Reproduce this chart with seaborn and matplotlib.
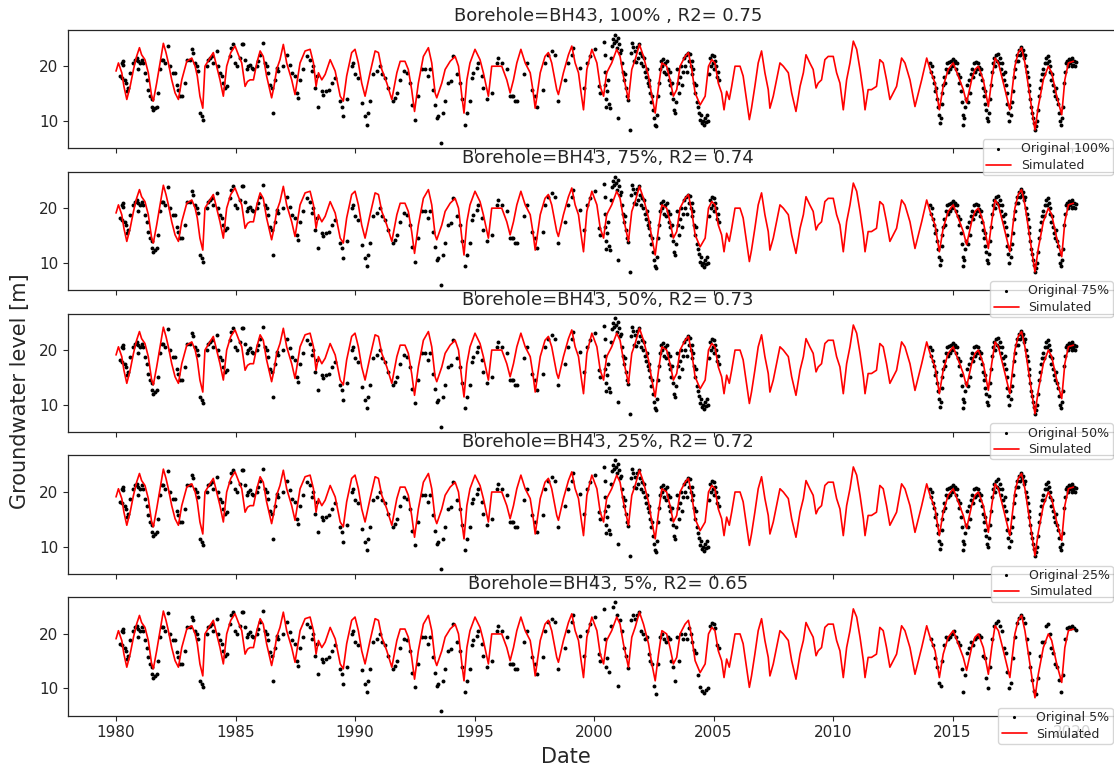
import numpy as np
import pandas as pd
import matplotlib
matplotlib.use("Agg")
import matplotlib.pyplot as plt
import seaborn as sns
from matplotlib.ticker import MultipleLocator, FormatStrFormatter

# ---------------- data (decimal year, groundwater level [m]) ----------------
sim_1980s = [(1980.00, 19.1), (1980.10, 20.6), (1980.24, 18.8), (1980.33, 16.3), (1980.45, 13.9), (1980.59, 16.3),
             (1980.73, 19.4), (1980.86, 21.8), (1980.98, 23.4), (1981.07, 22.1), (1981.21, 21.2), (1981.35, 18.8),
             (1981.49, 14.5), (1981.56, 13.6), (1981.70, 16.9), (1981.84, 20.6), (1981.98, 24.2), (1982.09, 22.5),
             (1982.19, 20.6), (1982.33, 17.5), (1982.47, 15.1), (1982.61, 13.9), (1982.75, 17.5), (1982.96, 20.9),
             (1983.17, 21.5), (1983.31, 20.0), (1983.40, 18.2), (1983.51, 14.5), (1983.63, 12.3), (1983.72, 20.0),
             (1983.93, 21.5), (1984.07, 22.5), (1984.21, 20.0), (1984.35, 17.5), (1984.49, 14.5), (1984.63, 20.0),
             (1984.80, 22.5), (1984.98, 23.7), (1985.12, 22.1), (1985.26, 20.6), (1985.40, 16.3), (1985.50, 17.2),
             (1985.61, 17.5), (1985.75, 17.5), (1985.89, 20.6), (1986.03, 22.8), (1986.16, 21.8), (1986.30, 18.2),
             (1986.51, 14.2), (1986.61, 16.3), (1986.72, 19.4), (1986.86, 21.2), (1987.00, 24.0), (1987.14, 20.6),
             (1987.35, 17.5), (1987.49, 14.8), (1987.70, 20.6), (1987.91, 22.8), (1988.12, 23.1), (1988.26, 20.6),
             (1988.37, 16.3), (1988.47, 18.8), (1988.61, 17.5), (1988.75, 18.5), (1988.96, 21.2), (1989.17, 19.1),
             (1989.38, 14.5), (1989.51, 13.6), (1989.65, 18.2), (1989.86, 22.5)]
sim_1990s = [(1990.00, 23.1), (1990.14, 20.6), (1990.28, 16.9), (1990.42, 14.5), (1990.63, 18.8), (1990.84, 22.8),
             (1990.98, 22.5), (1991.12, 19.4), (1991.33, 16.9), (1991.54, 13.9), (1991.75, 18.8), (1991.89, 20.9),
             (1992.09, 20.9), (1992.23, 19.4), (1992.37, 15.7), (1992.49, 11.7), (1992.65, 16.9), (1992.86, 21.8),
             (1993.07, 23.4), (1993.21, 20.6), (1993.35, 15.1), (1993.42, 14.2), (1993.63, 16.9), (1993.77, 19.4),
             (1993.98, 20.9), (1994.19, 21.8), (1994.33, 20.0), (1994.47, 14.5), (1994.56, 11.4), (1994.68, 17.5),
             (1994.81, 20.6), (1995.02, 23.1), (1995.23, 21.2), (1995.37, 18.8), (1995.58, 14.5), (1995.72, 20.0),
             (1995.93, 20.0), (1996.14, 20.0), (1996.35, 17.5), (1996.49, 15.1), (1996.63, 17.5), (1996.77, 20.6),
             (1996.94, 23.1), (1997.12, 20.6), (1997.33, 18.8), (1997.44, 15.7), (1997.54, 12.3), (1997.75, 18.8),
             (1997.95, 21.8), (1998.09, 22.5), (1998.23, 20.6), (1998.44, 15.7), (1998.51, 14.8), (1998.72, 18.8),
             (1998.93, 22.1), (1999.07, 23.7), (1999.21, 20.6), (1999.35, 18.8), (1999.46, 15.1), (1999.56, 12.0),
             (1999.70, 19.4), (1999.91, 23.1)]
sim_2000s = [(2000.12, 20.6), (2000.26, 16.3), (2000.40, 14.5), (2000.53, 18.8), (2000.74, 20.6), (2000.95, 23.1),
             (2001.09, 21.8), (2001.23, 18.2), (2001.44, 13.9), (2001.58, 19.4), (2001.72, 21.2), (2001.90, 24.0),
             (2002.07, 21.8), (2002.28, 18.2), (2002.42, 14.5), (2002.56, 11.4), (2002.70, 16.3), (2002.84, 20.6),
             (2003.04, 20.0), (2003.18, 17.5), (2003.32, 14.5), (2003.46, 15.7), (2003.60, 20.0), (2003.81, 21.8),
             (2003.95, 22.5), (2004.09, 19.4), (2004.23, 15.1), (2004.44, 12.9), (2004.65, 14.5), (2004.79, 20.0),
             (2004.93, 21.2), (2005.06, 20.6), (2005.20, 16.9), (2005.34, 15.1), (2005.44, 12.0), (2005.55, 15.4),
             (2005.66, 13.9), (2005.76, 16.3), (2005.90, 20.0), (2006.11, 20.0), (2006.24, 18.2), (2006.38, 13.9),
             (2006.50, 10.2), (2006.59, 12.3), (2006.73, 16.3), (2006.87, 20.6), (2007.01, 22.8), (2007.15, 18.8),
             (2007.29, 15.7), (2007.36, 12.3), (2007.50, 14.5), (2007.64, 17.5), (2007.78, 20.6), (2007.92, 20.0),
             (2008.13, 18.8), (2008.27, 15.1), (2008.45, 11.7), (2008.62, 16.3), (2008.76, 18.8), (2008.87, 22.1),
             (2009.03, 20.6), (2009.17, 19.4), (2009.29, 16.0), (2009.38, 16.9), (2009.52, 17.5), (2009.66, 21.2),
             (2009.80, 21.8)]
sim_2010s = [(2010.01, 21.8), (2010.15, 18.8), (2010.29, 16.9), (2010.43, 12.0), (2010.57, 17.5), (2010.71, 20.6),
             (2010.85, 24.6), (2010.99, 23.1), (2011.13, 19.4), (2011.27, 15.1), (2011.34, 12.0), (2011.47, 15.7),
             (2011.61, 15.7), (2011.82, 16.3), (2011.96, 21.2), (2012.10, 20.6), (2012.24, 17.5), (2012.38, 13.9),
             (2012.52, 15.1), (2012.66, 16.3), (2012.87, 21.5), (2013.01, 20.6), (2013.22, 17.5), (2013.43, 12.6),
             (2013.71, 17.5), (2013.92, 21.5), (2014.06, 19.4), (2014.27, 16.9), (2014.45, 12.0), (2014.61, 16.3),
             (2014.82, 19.4), (2015.03, 20.6), (2015.24, 18.2), (2015.45, 15.7), (2015.59, 13.3), (2015.80, 17.5),
             (2015.94, 19.4), (2016.08, 20.0), (2016.29, 17.5), (2016.50, 12.6), (2016.64, 17.5), (2016.78, 21.5),
             (2016.92, 20.6), (2017.13, 16.9), (2017.40, 12.0), (2017.61, 20.0), (2017.75, 22.5), (2017.89, 23.4),
             (2018.03, 20.6), (2018.24, 14.5), (2018.45, 8.3), (2018.59, 12.6), (2018.80, 17.5), (2019.01, 20.0),
             (2019.15, 18.8), (2019.36, 14.5), (2019.57, 11.1), (2019.70, 17.5), (2019.85, 20.6), (2020.06, 20.9)]

# sparse manual observations (kept in every panel)
obs_sparse_1980s = [(1980.17, 18.2), (1980.24, 20.6), (1980.24, 17.9), (1980.28, 20.3), (1980.31, 20.9), (1980.38, 17.5),
                    (1980.42, 16.9), (1980.45, 15.4), (1980.52, 16.0), (1980.59, 18.8), (1980.73, 20.6), (1980.79, 21.2),
                    (1980.86, 21.5), (1980.93, 20.9), (1980.93, 19.4), (1981.00, 20.6), (1981.07, 21.2), (1981.14, 20.6),
                    (1981.21, 18.8), (1981.28, 17.5), (1981.35, 15.7), (1981.42, 14.5), (1981.49, 13.9), (1981.49, 12.6),
                    (1981.56, 12.0), (1981.63, 12.3), (1981.70, 12.6), (1981.77, 15.1), (1981.84, 19.4), (1981.91, 21.2),
                    (1981.98, 21.2), (1982.05, 20.6), (1982.19, 23.8), (1982.26, 20.0), (1982.40, 18.8), (1982.47, 18.8),
                    (1982.54, 16.6), (1982.61, 15.7), (1982.68, 14.5), (1982.75, 14.5), (1982.89, 16.9), (1982.96, 21.2),
                    (1983.10, 21.2), (1983.17, 23.1), (1983.24, 22.5), (1983.31, 20.6), (1983.38, 20.0), (1983.44, 19.1),
                    (1983.51, 11.4), (1983.58, 10.8), (1983.63, 10.2), (1983.79, 20.0), (1983.86, 21.2), (1983.93, 21.5),
                    (1984.00, 21.8), (1984.07, 20.6), (1984.21, 22.8), (1984.28, 20.0), (1984.35, 18.8), (1984.42, 18.2),
                    (1984.49, 16.9), (1984.56, 16.0), (1984.63, 16.3), (1984.77, 21.8), (1984.80, 23.4), (1984.91, 24.0),
                    (1984.98, 20.6), (1985.05, 20.0), (1985.19, 21.5), (1985.26, 24.0), (1985.33, 24.0), (1985.40, 21.2),
                    (1985.47, 19.4), (1985.54, 20.0), (1985.61, 20.3), (1985.68, 19.7), (1985.75, 19.4), (1985.89, 20.0),
                    (1985.96, 20.9), (1986.03, 22.1), (1986.16, 24.3), (1986.23, 20.6), (1986.30, 20.0), (1986.37, 18.8),
                    (1986.44, 16.6), (1986.51, 16.0), (1986.58, 11.4), (1986.65, 17.5), (1986.72, 19.7), (1986.79, 19.1),
                    (1987.00, 20.0), (1987.14, 22.1), (1987.28, 20.3), (1987.35, 18.8), (1987.49, 18.2), (1987.56, 15.1),
                    (1987.63, 14.2), (1987.70, 17.5), (1987.84, 19.4), (1987.98, 21.8), (1988.12, 21.2), (1988.19, 19.1),
                    (1988.26, 20.0), (1988.33, 16.0), (1988.40, 18.2), (1988.47, 12.6), (1988.61, 15.4), (1988.68, 14.8),
                    (1988.79, 15.4), (1988.89, 15.7), (1989.03, 16.9), (1989.17, 17.9), (1989.38, 13.6), (1989.47, 12.6),
                    (1989.51, 10.9), (1989.68, 13.9), (1989.86, 20.0), (1989.93, 20.6)]
obs_sparse_1990s = [(1990.00, 18.5), (1990.14, 17.9), (1990.28, 13.3), (1990.42, 10.8), (1990.49, 9.3), (1990.56, 11.4),
                    (1990.63, 13.6), (1990.77, 18.5), (1990.91, 19.1), (1991.05, 20.0), (1991.12, 18.5), (1991.26, 17.9),
                    (1991.40, 16.0), (1991.58, 13.6), (1991.68, 14.2), (1991.75, 15.1), (1991.89, 17.5), (1992.03, 19.1),
                    (1992.16, 18.8), (1992.30, 16.9), (1992.37, 12.9), (1992.51, 10.2), (1992.65, 14.5), (1992.79, 19.4),
                    (1992.93, 19.4), (1993.07, 18.2), (1993.14, 19.4), (1993.28, 15.7), (1993.35, 12.9), (1993.42, 10.5),
                    (1993.49, 10.8), (1993.60, 5.9), (1993.70, 11.4), (1993.77, 13.6), (1993.91, 16.9), (1994.00, 17.2),
                    (1994.12, 21.8), (1994.26, 18.5), (1994.40, 16.9), (1994.47, 13.9), (1994.61, 9.3), (1994.68, 11.4),
                    (1994.81, 13.6), (1994.88, 17.9), (1994.95, 18.8), (1995.09, 19.7), (1995.16, 20.6), (1995.30, 18.2),
                    (1995.37, 16.0), (1995.51, 13.9), (1995.72, 15.1), (1995.93, 20.6), (1996.00, 21.5), (1996.14, 20.6),
                    (1996.35, 19.4), (1996.49, 14.5), (1996.56, 14.5), (1996.63, 14.5), (1996.70, 13.6), (1996.77, 13.6),
                    (1997.05, 18.5), (1997.19, 20.6), (1997.40, 15.7), (1997.54, 14.5), (1997.60, 12.6), (1997.88, 15.7),
                    (1997.95, 20.6), (1998.09, 22.1), (1998.23, 22.8), (1998.37, 22.1), (1998.51, 13.6), (1998.79, 17.5),
                    (1998.93, 20.6), (1999.07, 22.1), (1999.14, 23.4), (1999.42, 19.7), (1999.56, 16.0), (1999.70, 20.6),
                    (1999.84, 21.8), (2000.05, 23.1), (2000.19, 16.3), (2000.26, 15.1)]

# dense logger observations (thinned in the lower-percentage panels)
obs_dense_2000s = [(2000.42, 24.5), (2000.44, 22.0), (2000.46, 19.0), (2000.48, 16.5), (2000.50, 14.0), (2000.52, 12.5),
                   (2000.55, 15.5), (2000.58, 17.5), (2000.62, 13.0), (2000.67, 12.3), (2000.72, 21.5), (2000.76, 23.8),
                   (2000.80, 25.0), (2000.84, 24.2), (2000.88, 25.8), (2000.92, 24.6), (2000.96, 23.4), (2001.00, 25.2),
                   (2001.02, 10.5), (2001.05, 24.0), (2001.09, 22.5), (2001.13, 23.0), (2001.17, 20.5), (2001.21, 19.0),
                   (2001.25, 17.5), (2001.29, 18.5), (2001.33, 16.0), (2001.38, 14.5), (2001.42, 13.8), (2001.50, 8.3),
                   (2001.56, 22.5), (2001.60, 24.3), (2001.64, 23.5), (2001.68, 21.0), (2001.72, 22.8), (2001.76, 20.8),
                   (2001.80, 23.5), (2001.84, 21.5), (2001.88, 24.0), (2001.92, 22.5), (2001.96, 20.5), (2002.00, 21.8),
                   (2002.04, 20.0), (2002.08, 21.5), (2002.12, 19.0), (2002.16, 18.0), (2002.20, 19.5), (2002.24, 17.0),
                   (2002.28, 16.3), (2002.32, 17.5), (2002.36, 15.0), (2002.40, 13.5), (2002.44, 14.5), (2002.48, 12.0),
                   (2002.52, 10.5), (2002.56, 9.3), (2002.60, 9.0), (2002.64, 11.0), (2002.68, 14.5), (2002.72, 17.0),
                   (2002.76, 19.5), (2002.80, 21.0), (2002.84, 20.0), (2002.88, 21.3), (2002.92, 19.0), (2002.96, 20.5),
                   (2003.00, 18.5), (2003.04, 21.0), (2003.08, 19.5), (2003.12, 17.5), (2003.16, 19.0), (2003.20, 16.5),
                   (2003.24, 15.0), (2003.28, 17.0), (2003.32, 14.0), (2003.36, 12.0), (2003.40, 11.4), (2003.44, 13.5),
                   (2003.48, 19.5), (2003.52, 17.0), (2003.56, 15.0), (2003.60, 18.0), (2003.64, 20.0), (2003.68, 16.5),
                   (2003.72, 19.0), (2003.76, 21.5), (2003.80, 20.0), (2003.84, 22.0), (2003.88, 19.0), (2003.92, 22.5),
                   (2003.96, 21.0), (2004.00, 22.3), (2004.04, 20.0), (2004.08, 21.0), (2004.12, 18.5), (2004.16, 19.5),
                   (2004.20, 17.0), (2004.24, 15.0), (2004.28, 16.5), (2004.32, 13.5), (2004.36, 12.5), (2004.40, 11.5),
                   (2004.44, 10.2), (2004.48, 11.0), (2004.52, 9.5), (2004.56, 10.0), (2004.60, 9.2), (2004.64, 10.5),
                   (2004.68, 9.8), (2004.72, 11.0), (2004.76, 10.0), (2004.80, 18.5), (2004.84, 21.5), (2004.88, 20.0),
                   (2004.92, 22.0), (2004.96, 20.5), (2005.00, 21.8), (2005.04, 19.5), (2005.08, 21.0), (2005.12, 20.0),
                   (2005.16, 18.0), (2005.20, 19.0), (2005.24, 17.5)]
obs_dense_2010s = [(2014.06, 20.6), (2014.10, 19.0), (2014.14, 20.0), (2014.18, 18.0), (2014.22, 17.0), (2014.26, 15.5),
                   (2014.30, 16.0), (2014.34, 14.0), (2014.38, 12.5), (2014.42, 11.0), (2014.46, 9.5), (2014.50, 10.5),
                   (2014.54, 13.0), (2014.58, 15.0), (2014.62, 16.5), (2014.66, 18.0), (2014.70, 17.0), (2014.74, 19.5),
                   (2014.78, 20.5), (2014.82, 19.0), (2014.86, 20.8), (2014.90, 19.5), (2014.94, 21.0), (2014.98, 20.0),
                   (2015.02, 21.3), (2015.06, 20.5), (2015.10, 21.0), (2015.14, 19.5), (2015.18, 20.5), (2015.22, 18.5),
                   (2015.26, 17.0), (2015.30, 18.0), (2015.34, 15.5), (2015.38, 13.5), (2015.42, 11.0), (2015.46, 9.3),
                   (2015.50, 10.5), (2015.54, 12.5), (2015.58, 14.0), (2015.62, 16.5), (2015.66, 13.5), (2015.70, 17.5),
                   (2015.74, 15.0), (2015.78, 18.5), (2015.82, 19.5), (2015.86, 18.0), (2015.90, 20.5), (2015.94, 19.0),
                   (2015.98, 20.8), (2016.02, 19.5), (2016.06, 20.5), (2016.10, 19.8), (2016.14, 18.5), (2016.18, 19.5),
                   (2016.22, 17.5), (2016.26, 16.0), (2016.30, 14.5), (2016.34, 15.5), (2016.38, 13.0), (2016.42, 12.0),
                   (2016.46, 10.5), (2016.50, 10.0), (2016.54, 11.5), (2016.58, 14.0), (2016.62, 16.5), (2016.66, 19.0),
                   (2016.70, 20.5), (2016.74, 21.5), (2016.78, 20.0), (2016.82, 22.0), (2016.86, 21.0), (2016.90, 22.3),
                   (2016.94, 20.5), (2016.98, 21.5), (2017.02, 19.5), (2017.06, 20.5), (2017.10, 18.5), (2017.14, 17.5),
                   (2017.18, 19.0), (2017.22, 16.5), (2017.26, 15.0), (2017.30, 13.0), (2017.34, 11.5), (2017.38, 10.0),
                   (2017.42, 12.5), (2017.46, 11.0), (2017.50, 13.5), (2017.54, 15.5), (2017.58, 18.0), (2017.62, 19.5),
                   (2017.66, 21.0), (2017.70, 22.0), (2017.74, 21.0), (2017.78, 23.0), (2017.82, 22.0), (2017.86, 23.5),
                   (2017.90, 22.5), (2017.94, 23.0), (2017.98, 21.5), (2018.02, 22.0), (2018.06, 20.0), (2018.10, 19.0),
                   (2018.14, 18.0), (2018.18, 16.5), (2018.22, 15.5), (2018.26, 14.0), (2018.30, 12.5), (2018.34, 11.5),
                   (2018.38, 10.5), (2018.42, 9.5), (2018.46, 8.3), (2018.50, 9.0), (2018.54, 10.0), (2018.58, 12.0),
                   (2018.62, 14.5), (2018.66, 16.0), (2018.70, 17.5), (2018.74, 18.5), (2018.78, 19.5), (2018.82, 18.5),
                   (2018.86, 20.5), (2018.90, 21.5), (2018.94, 20.5), (2018.98, 21.8), (2019.02, 21.0), (2019.06, 20.0),
                   (2019.10, 19.0), (2019.14, 17.5), (2019.18, 18.5), (2019.22, 16.5), (2019.26, 15.5), (2019.30, 14.5),
                   (2019.34, 16.0), (2019.38, 14.0), (2019.42, 13.0), (2019.46, 11.5), (2019.50, 10.0), (2019.54, 9.3),
                   (2019.58, 10.5), (2019.62, 12.5), (2019.66, 17.0), (2019.70, 19.0), (2019.74, 20.5), (2019.78, 21.0),
                   (2019.82, 20.0), (2019.86, 21.3), (2019.90, 20.5), (2019.94, 21.0), (2019.98, 20.0), (2020.02, 21.5),
                   (2020.06, 20.3), (2020.10, 21.0), (2020.14, 20.0), (2020.18, 20.8)]

percents = [100, 75, 50, 25, 5]
r2_values = [0.75, 0.74, 0.73, 0.72, 0.65]
titles = ["Borehole=BH43, 100% , R2= 0.75", "Borehole=BH43, 75%, R2= 0.74", "Borehole=BH43, 50%, R2= 0.73",
          "Borehole=BH43, 25%, R2= 0.72", "Borehole=BH43, 5%, R2= 0.65"]
# keep every n-th dense reading for the display of each panel
dense_keep_every = {100: 1, 75: 1, 50: 1, 25: 1, 5: 2}

# ---------------- tables ----------------
sim = pd.DataFrame(sim_1980s + sim_1990s + sim_2000s + sim_2010s, columns=["year", "level"])
sparse = pd.DataFrame(obs_sparse_1980s + obs_sparse_1990s, columns=["year", "level"])
dense = pd.DataFrame(obs_dense_2000s + obs_dense_2010s, columns=["year", "level"])

# ---------------- figure ----------------
sns.set_style("ticks")
plt.rcParams["font.family"] = ["DejaVu Sans"]
plt.rcParams["axes.edgecolor"] = ".15"
plt.rcParams["text.color"] = ".15"
plt.rcParams["xtick.color"] = ".15"
plt.rcParams["ytick.color"] = ".15"

W, H = 1114, 767
fig = plt.figure(figsize=(W / 100, H / 100), dpi=100)
gs = fig.add_gridspec(5, 1, left=68 / W, right=1148 / W, top=1 - 29.7 / H, bottom=1 - 715.7 / H, hspace=0.2)

for i, pct in enumerate(percents):
    ax = fig.add_subplot(gs[i])
    ax.set_zorder(10 - i)
    step = dense_keep_every[pct]
    obs = pd.concat([sparse, dense.iloc[::step]], ignore_index=True)
    sns.scatterplot(data=obs, x="year", y="level", ax=ax, color="black", marker="o", s=8,
                    linewidth=0, label=f"Original {pct}%", zorder=2)
    sns.lineplot(data=sim, x="year", y="level", ax=ax, color="red", linewidth=1.2,
                 label="Simulated", estimator=None, sort=False, zorder=3)
    ax.set_xlim(1977.99, 2023.18)
    ax.set_ylim(5.0, 26.7)
    ax.set_yticks([10, 20])
    ax.xaxis.set_major_locator(MultipleLocator(5))
    ax.xaxis.set_major_formatter(FormatStrFormatter("%d"))
    ax.tick_params(labelsize=11, length=3.5, width=0.8)
    for s in ax.spines.values():
        s.set_linewidth(0.9)
    ax.set_xlabel("")
    ax.set_ylabel("")
    ax.set_title(titles[i], fontsize=13, color=".15")
    if i < 4:
        ax.tick_params(labelbottom=False)
    ax.legend(loc="upper right", bbox_to_anchor=(1119 / W, 1 - (133 + 142.1 * i) / H),
              bbox_transform=fig.transFigure, fontsize=9, frameon=True, markerscale=0.8,
              borderpad=0.25, labelspacing=0.3)

fig.text(20 / W, 1 - 391 / H, "Groundwater level [m]", rotation=90, ha="center", va="center", fontsize=15)
fig.text(566 / W, 1 - 757 / H, "Date", ha="center", va="center", fontsize=15)

fig.savefig("out.png", dpi=100)
